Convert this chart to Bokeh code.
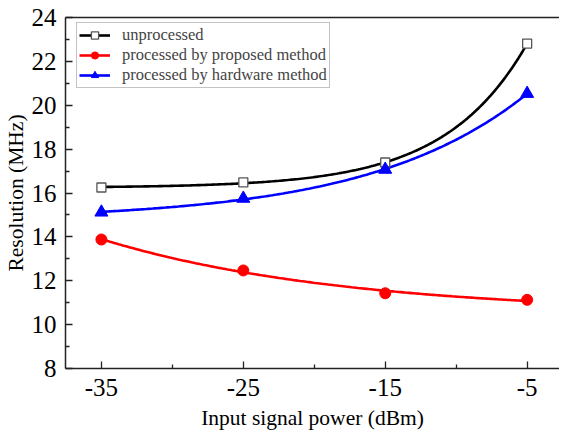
import numpy as np
from bokeh.plotting import figure
from bokeh.models import LinearAxis, FixedTicker, Legend, LegendItem, Range1d
from bokeh.embed import file_html
from bokeh.resources import INLINE

# ---- data ----
power = [-35, -25, -15, -5]
unprocessed = [16.25, 16.48, 17.39, 22.81]
proposed = [13.88, 12.47, 11.43, 11.13]
hardware = [15.12, 15.75, 17.07, 20.53]
x_ticks = [-35, -25, -15, -5]
y_ticks = [8, 10, 12, 14, 16, 18, 20, 22, 24]

FONT = "Liberation Serif"


def exp_fit(x, y, n=200):
    """least squares fit of y = a + b*exp(c*x), evaluated on a fine grid"""
    x = np.asarray(x, float)
    y = np.asarray(y, float)
    best = None
    for c in np.concatenate([np.linspace(-0.4, -0.005, 400), np.linspace(0.005, 0.4, 400)]):
        A = np.column_stack([np.ones_like(x), np.exp(c * x)])
        coef, *_ = np.linalg.lstsq(A, y, rcond=None)
        r = np.sum((A @ coef - y) ** 2)
        if best is None or r < best[0]:
            best = (r, c, coef)
    _, c, (a, b) = best
    xs = np.linspace(x.min(), x.max(), n)
    return xs, a + b * np.exp(c * xs)


p = figure(width=559, height=436, output_backend="svg", toolbar_location=None,
           x_range=Range1d(-37.53, -2.72), y_range=Range1d(8, 24),
           min_border_left=58, min_border_right=0, min_border_top=17, min_border_bottom=68)
p.background_fill_color = "white"
p.border_fill_color = "white"
p.outline_line_color = None
p.xgrid.visible = False
p.ygrid.visible = False

for ax in (p.xaxis[0], p.yaxis[0]):
    ax.axis_line_width = 1.5
    ax.axis_line_color = "#222222"
    ax.major_tick_line_color = "#222222"
    ax.minor_tick_line_color = "#222222"
    ax.major_tick_line_width = 1.3
    ax.minor_tick_line_width = 1.3
    ax.major_tick_out = 0
    ax.major_tick_in = 7
    ax.minor_tick_out = 0
    ax.minor_tick_in = 4
    ax.major_label_text_font = FONT
    ax.major_label_text_font_size = "25px"
    ax.major_label_text_color = "black"
    ax.axis_label_text_font = FONT
    ax.axis_label_text_font_size = "21.5px"
    ax.axis_label_text_font_style = "normal"
    ax.axis_label_text_color = "black"

p.xaxis.ticker = FixedTicker(ticks=x_ticks, minor_ticks=[-30, -20, -10])
p.yaxis.ticker = FixedTicker(ticks=y_ticks, minor_ticks=[9, 11, 13, 15, 17, 19, 21, 23])
p.xaxis.major_label_overrides = {t: str(t) for t in x_ticks}
p.xaxis.axis_label = "Input signal power (dBm)"
p.yaxis.axis_label = "Resolution (MHz)"
p.xaxis.major_label_standoff = 10
p.xaxis.axis_label_standoff = 7
p.yaxis.major_label_standoff = 9
p.yaxis.axis_label_standoff = 1

top = LinearAxis(ticker=FixedTicker(ticks=[]), major_label_text_font_size="0px",
                 major_tick_out=0, major_tick_in=0, minor_tick_out=0, minor_tick_in=0,
                 major_label_standoff=0, axis_line_width=1.5, axis_line_color="#222222")
p.add_layout(top, "above")

# curves
xs, ys = exp_fit(power, unprocessed)
l1 = p.line(xs, ys, line_color="black", line_width=2.6)
xs, ys = exp_fit(power, proposed)
l2 = p.line(xs, ys, line_color="#ff0000", line_width=2.6)
xs, ys = exp_fit(power, hardware)
l3 = p.line(xs, ys, line_color="#0000ff", line_width=2.6)

m1 = p.scatter(power, unprocessed, marker="square", size=9, fill_color="white",
               line_color="#555555", line_width=1.3)
m2 = p.scatter(power, proposed, marker="circle", size=11, fill_color="#ff0000", line_color="#ff0000")
m3 = p.scatter(power, hardware, marker="triangle", size=13, fill_color="#0000ff", line_color="#0000ff")

legend = Legend(items=[
    LegendItem(label="unprocessed", renderers=[l1, m1]),
    LegendItem(label="processed by proposed method", renderers=[l2, m2]),
    LegendItem(label="processed by hardware method", renderers=[l3, m3]),
], location=(11, 280))
legend.margin = 0
legend.padding = 2
legend.spacing = 0
legend.label_text_font = FONT
legend.label_text_font_size = "16.5px"
legend.label_height = 18
legend.glyph_height = 18
legend.glyph_width = 31
legend.label_standoff = 12
legend.border_line_color = "#888888"
legend.border_line_width = 1
legend.background_fill_alpha = 1
p.add_layout(legend, "center")

open("out.html", "w").write(file_html(p, INLINE))
